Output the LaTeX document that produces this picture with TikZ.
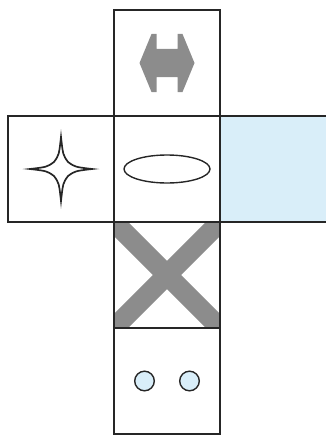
\documentclass[tikz,border=0pt]{standalone}
\usetikzlibrary{positioning}
\definecolor{netblue}{RGB}{217,238,249}
\definecolor{netgray}{RGB}{140,140,140}
\begin{document}
\begin{tikzpicture}[x=1pt,y=-1pt,
  face/.style={draw=black!85,line width=1.4pt,minimum size=106pt,inner sep=0pt,outer sep=0pt},
  mark line/.style={draw=black!85,line width=1.4pt}]
  \useasboundingbox (0,0) rectangle (325,436);
  \node[face] (mid) at (167,169) {};
  \node[face,above=0pt of mid] (top) {};
  \node[face,left=0pt of mid] (west) {};
  \node[face,fill=netblue,minimum width=110pt,right=0pt of mid] (east) {};
  \node[face,below=0pt of mid] (cross) {};
  \node[face,below=0pt of cross] (dots) {};
  \fill[netgray,shift={(top.center)}] (-27.5,0) -- (-15.5,-29) -- (-10.5,-29) -- (-10.5,-14)
    -- (10.5,-14) -- (10.5,-29) -- (15.5,-29) -- (27.5,0) -- (15.5,29) -- (10.5,29)
    -- (10.5,14) -- (-10.5,14) -- (-10.5,29) -- (-15.5,29) -- cycle;
  \draw[mark line,line width=1.7pt,shift={(west.center)}] (0,-32)
    .. controls (2,-14) .. (7,-7) .. controls (14,-2) .. (31,0)
    .. controls (14,2) .. (7,7) .. controls (2,14) .. (0,32)
    .. controls (-2,14) .. (-7,7) .. controls (-14,2) .. (-31,0)
    .. controls (-14,-2) .. (-7,-7) .. controls (-2,-14) .. cycle;
  \draw[mark line] (mid.center) ellipse [x radius=43pt,y radius=14pt];
  \begin{scope}
    \clip (cross.south west) rectangle (cross.north east);
    \draw[netgray,line width=20pt] (cross.north west) -- (cross.south east)
      (cross.south west) -- (cross.north east);
  \end{scope}
  \draw[mark line] (cross.south west) rectangle (cross.north east);
  \foreach \dx in {-22.5,22.5}{
    \draw[mark line,fill=netblue] ([xshift=\dx pt]dots.center) circle (9.8pt);
  }
\end{tikzpicture}
\end{document}
